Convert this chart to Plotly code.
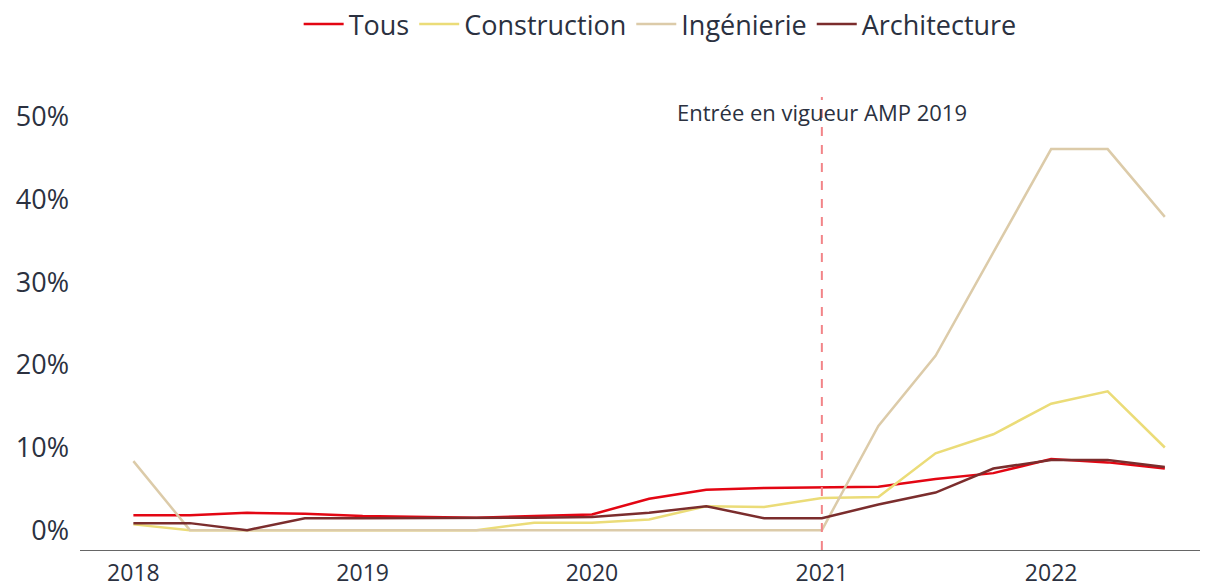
import plotly.graph_objects as go

quarters = ["2018-01-01", "2018-04-01", "2018-07-01", "2018-10-01",
            "2019-01-01", "2019-04-01", "2019-07-01", "2019-10-01",
            "2020-01-01", "2020-04-01", "2020-07-01", "2020-10-01",
            "2021-01-01", "2021-04-01", "2021-07-01", "2021-10-01",
            "2022-01-01", "2022-04-01", "2022-07-01"]

tous = [1.8, 1.8, 2.1, 2.0, 1.7, 1.6, 1.5, 1.7, 1.9, 3.8, 4.9, 5.1, 5.2, 5.25, 6.2, 6.9, 8.6, 8.2, 7.45]
construction = [0.7, 0.0, 0.0, 0.0, 0.0, 0.0, 0.0, 0.9, 0.9, 1.3, 2.9, 2.8, 3.9, 4.0, 9.3, 11.6, 15.3, 16.8, 10.0]
ingenierie = [8.35, 0.0, 0.0, 0.0, 0.0, 0.0, 0.0, 0.0, 0.0, 0.0, 0.0, 0.0, 0.0, 12.6, 21.1, 33.6, 46.1, 46.1, 37.9]
architecture = [0.85, 0.85, 0.0, 1.45, 1.45, 1.45, 1.45, 1.5, 1.6, 2.1, 2.9, 1.45, 1.45, 3.1, 4.55, 7.45, 8.5, 8.5, 7.65]

year_ticks = ["2018-01-01", "2019-01-01", "2020-01-01", "2021-01-01", "2022-01-01"]
year_labels = ["2018", "2019", "2020", "2021", "2022"]
y_ticks = [0, 10, 20, 30, 40, 50]
y_labels = ["0%", "10%", "20%", "30%", "40%", "50%"]

event_date = "2021-01-01"
event_label = "Entrée en vigueur AMP 2019"

series = [
    ("Tous", tous, "#e30613"),
    ("Construction", construction, "#ebdc78"),
    ("Ingénierie", ingenierie, "#dccba9"),
    ("Architecture", architecture, "#7b2d2d"),
]

TEXT = "#2b3140"
FONT = "Open Sans"

fig = go.Figure()
for name, vals, col in series:
    fig.add_trace(go.Scatter(x=quarters, y=vals, mode="lines", name=name,
                             line=dict(color=col, width=2.5)))

fig.add_shape(type="line", x0=event_date, x1=event_date, xref="x",
              y0=0, y1=1, yref="paper",
              line=dict(color="#f28488", width=2, dash="dash"))
fig.add_annotation(x=event_date, xref="x", y=0.967, yref="paper",
                   text=event_label, showarrow=False,
                   font=dict(family=FONT, size=22, color=TEXT),
                   xanchor="center", yanchor="middle")

fig.update_layout(
    width=1205, height=587,
    margin=dict(l=80, r=5, t=97, b=37, autoexpand=False),
    paper_bgcolor="white", plot_bgcolor="white",
    font=dict(family=FONT, color=TEXT),
    showlegend=True,
    legend=dict(orientation="h", x=0.518, xanchor="center", y=1.16, yanchor="middle",
                font=dict(family=FONT, size=27, color=TEXT), itemwidth=40,
                bgcolor="rgba(0,0,0,0)"),
    xaxis=dict(type="date", range=["2017-10-08", "2022-08-26"],
               tickmode="array", tickvals=year_ticks, ticktext=year_labels,
               showgrid=False, zeroline=False, showline=True, automargin=False,
               linecolor="#666666", linewidth=1, ticks="",
               ticklabelstandoff=2,
               tickfont=dict(family=FONT, size=23, color=TEXT)),
    yaxis=dict(range=[-2.4, 52.4], tickmode="array", tickvals=y_ticks, ticktext=y_labels,
               showgrid=False, zeroline=False, showline=False, ticks="", automargin=False,
               ticklabelstandoff=10,
               tickfont=dict(family=FONT, size=27, color=TEXT)),
)

fig.write_html("out.html")
